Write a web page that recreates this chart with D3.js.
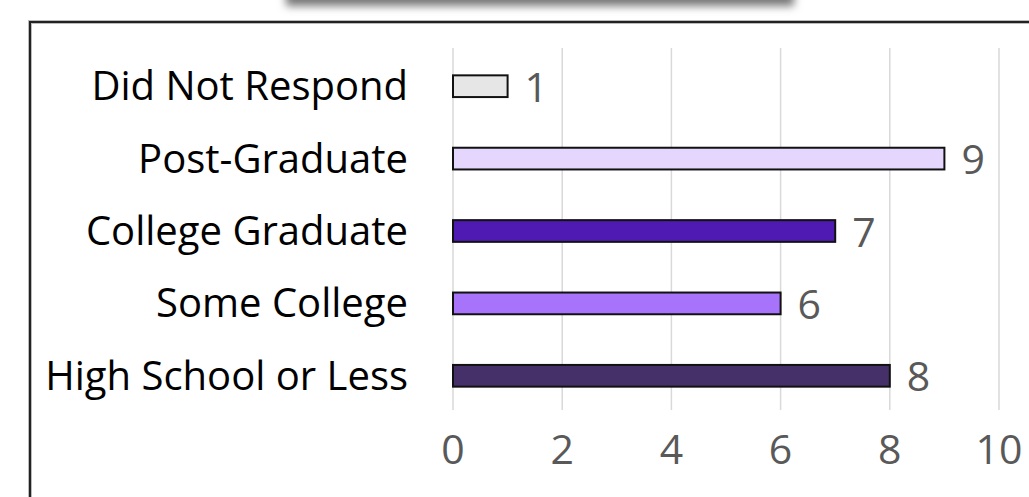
<!DOCTYPE html>
<html>
  <head>
    <meta charset="utf-8" />
    <style>
      body { margin: 0; background: #fff; }
      svg { display: block; }
    </style>
  </head>
  <body>
    <script src="https://cdn.jsdelivr.net/npm/d3@7"></script>
    <div id="main"></div>
    <script>
      // data
      const categories = ["Did Not Respond", "Post-Graduate", "College Graduate", "Some College", "High School or Less"];
      const counts = [1, 9, 7, 6, 8];
      const barColors = ["#e6e6e6", "#e5d6fd", "#4f1ab4", "#a673fa", "#46306a"];
      const xTicks = [0, 2, 4, 6, 8, 10];

      const W = 1029, H = 497;

      const svg = d3
        .select("#main")
        .append("svg")
        .attr("width", W)
        .attr("height", H);

      // shadow of the title box cut off at the top
      const defs = svg.append("defs");
      defs.append("filter")
        .attr("id", "blur")
        .attr("x", "-10%").attr("y", "-50%")
        .attr("width", "120%").attr("height", "200%")
        .append("feGaussianBlur")
        .attr("stdDeviation", 4);

      svg.append("rect")
        .attr("x", 286).attr("y", -30)
        .attr("width", 508).attr("height", 36)
        .attr("fill", "#777")
        .attr("filter", "url(#blur)");
      svg.append("rect")
        .attr("x", 280).attr("y", -30)
        .attr("width", 520).attr("height", 30)
        .attr("fill", "#fff");

      // chart frame (runs off right and bottom)
      svg.append("rect")
        .attr("x", 30).attr("y", 22)
        .attr("width", 1100).attr("height", 600)
        .attr("fill", "#fff")
        .attr("stroke", "#bbb")
        .attr("stroke-width", 4);
      svg.append("rect")
        .attr("x", 30).attr("y", 22)
        .attr("width", 1100).attr("height", 600)
        .attr("fill", "none")
        .attr("stroke", "#222")
        .attr("stroke-width", 2);

      const x = d3.scaleLinear().domain([0, 10]).range([453, 999]);
      const y = d3.scaleBand().domain(categories).range([50, 412]).paddingInner(0.7).paddingOuter(0.35);

      // gridlines
      svg.append("g")
        .selectAll("line")
        .data(xTicks)
        .join("line")
        .attr("x1", (d) => x(d)).attr("x2", (d) => x(d))
        .attr("y1", 48).attr("y2", 410)
        .attr("stroke", "#d9d9d9")
        .attr("stroke-width", 1.5);

      // bars
      svg.append("g")
        .selectAll("rect")
        .data(categories)
        .join("rect")
        .attr("x", x(0))
        .attr("y", (d) => y(d))
        .attr("width", (d, i) => x(counts[i]) - x(0))
        .attr("height", y.bandwidth())
        .attr("fill", (d, i) => barColors[i])
        .attr("stroke", "#111")
        .attr("stroke-width", 2);

      const font = "'Open Sans', 'Noto Sans', sans-serif";

      // category labels
      svg.append("g")
        .selectAll("text")
        .data(categories)
        .join("text")
        .attr("x", 408)
        .attr("y", (d) => y(d) + y.bandwidth() / 2)
        .attr("dy", "0.35em")
        .attr("text-anchor", "end")
        .attr("font-family", font)
        .attr("font-size", 40)
        .attr("fill", "#000")
        .text((d) => d);

      // value labels
      svg.append("g")
        .selectAll("text")
        .data(categories)
        .join("text")
        .attr("x", (d, i) => x(counts[i]) + 17)
        .attr("y", (d) => y(d) + y.bandwidth() / 2)
        .attr("dy", "0.38em")
        .attr("font-family", font)
        .attr("font-size", 41)
        .attr("fill", "#595959")
        .text((d, i) => counts[i]);

      // x axis tick labels
      svg.append("g")
        .selectAll("text")
        .data(xTicks)
        .join("text")
        .attr("x", (d) => x(d))
        .attr("y", 464)
        .attr("text-anchor", "middle")
        .attr("font-family", font)
        .attr("font-size", 41)
        .attr("fill", "#595959")
        .text((d) => d);
    </script>
  </body>
</html>
